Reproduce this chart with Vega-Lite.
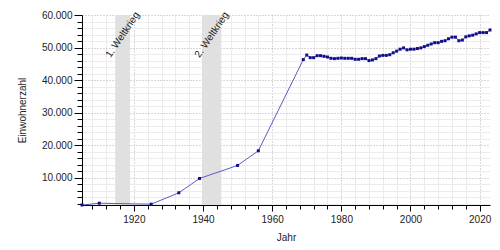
{
  "$schema": "https://vega.github.io/schema/vega-lite/v6.json",
  "width": 408,
  "height": 190,
  "autosize": {"type": "none"},
  "padding": {"left": 82, "top": 15, "right": 10, "bottom": 45},
  "background": "white",
  "config": {
    "view": {"stroke": null},
    "font": "Liberation Sans",
    "axis": {"labelFont": "Liberation Sans", "titleFont": "Liberation Sans", "labelColor": "#222", "titleColor": "#222", "titleFontWeight": "normal", "labelFontSize": 10, "titleFontSize": 10}
  },
  "datasets": {
    "pop": [
      {"year": 1905, "pop": 1650}, {"year": 1910, "pop": 2200}, {"year": 1925, "pop": 1900},
      {"year": 1933, "pop": 5400}, {"year": 1939, "pop": 9800}, {"year": 1950, "pop": 13800},
      {"year": 1956, "pop": 18300}, {"year": 1969, "pop": 46300}, {"year": 1970, "pop": 47700},
      {"year": 1971, "pop": 46900}, {"year": 1972, "pop": 46900}, {"year": 1973, "pop": 47500},
      {"year": 1974, "pop": 47500}, {"year": 1975, "pop": 47300}, {"year": 1976, "pop": 47100},
      {"year": 1977, "pop": 46700}, {"year": 1978, "pop": 46600}, {"year": 1979, "pop": 46700},
      {"year": 1980, "pop": 46800}, {"year": 1981, "pop": 46700}, {"year": 1982, "pop": 46700},
      {"year": 1983, "pop": 46700}, {"year": 1984, "pop": 46400}, {"year": 1985, "pop": 46400},
      {"year": 1986, "pop": 46600}, {"year": 1987, "pop": 46600}, {"year": 1988, "pop": 46000},
      {"year": 1989, "pop": 46200}, {"year": 1990, "pop": 46600}, {"year": 1991, "pop": 47400},
      {"year": 1992, "pop": 47600}, {"year": 1993, "pop": 47600}, {"year": 1994, "pop": 47800},
      {"year": 1995, "pop": 48400}, {"year": 1996, "pop": 48900}, {"year": 1997, "pop": 49500},
      {"year": 1998, "pop": 49900}, {"year": 1999, "pop": 49300}, {"year": 2000, "pop": 49500},
      {"year": 2001, "pop": 49500}, {"year": 2002, "pop": 49700}, {"year": 2003, "pop": 49900},
      {"year": 2004, "pop": 50300}, {"year": 2005, "pop": 50700}, {"year": 2006, "pop": 51100},
      {"year": 2007, "pop": 51500}, {"year": 2008, "pop": 51500}, {"year": 2009, "pop": 51900},
      {"year": 2010, "pop": 52100}, {"year": 2011, "pop": 52700}, {"year": 2012, "pop": 53200},
      {"year": 2013, "pop": 53200}, {"year": 2014, "pop": 52100}, {"year": 2015, "pop": 52300},
      {"year": 2016, "pop": 53300}, {"year": 2017, "pop": 53600}, {"year": 2018, "pop": 53800},
      {"year": 2019, "pop": 54200}, {"year": 2020, "pop": 54600}, {"year": 2021, "pop": 54600},
      {"year": 2022, "pop": 54600}, {"year": 2023, "pop": 55400}
    ],
    "wars": [
      {"start": 1914.6, "end": 1918.9, "mid": 1916.75, "ypos": 53900, "label": "1. Weltkrieg"},
      {"start": 1939.7, "end": 1945.3, "mid": 1942.5, "ypos": 53900, "label": "2. Weltkrieg"}
    ]
  },
  "resolve": {"axis": {"x": "independent", "y": "independent"}},
  "layer": [
    {
      "data": {"name": "wars"},
      "mark": {"type": "rect", "color": "#e0e0e0"},
      "encoding": {
        "x": {"field": "start", "type": "quantitative", "scale": {"domain": [1905, 2023], "nice": false, "zero": false}, "axis": null},
        "x2": {"field": "end"}
      }
    },
    {
      "data": {"name": "pop"},
      "mark": {"type": "point", "shape": "square", "filled": true, "size": 0.1, "color": "#10108a", "opacity": 0},
      "encoding": {
        "x": {"field": "year", "type": "quantitative", "scale": {"domain": [1905, 2023], "nice": false, "zero": false},
          "axis": {"orient": "bottom", "values": [1908,1912,1916,1924,1928,1932,1936,1944,1948,1952,1956,1964,1968,1972,1976,1984,1988,1992,1996,2004,2008,2012,2016],
            "labels": false, "title": null, "domain": false, "tickSize": 4, "tickColor": "#000", "grid": true, "gridColor": "#ececec", "gridWidth": 1}},
        "y": {"field": "pop", "type": "quantitative", "scale": {"domain": [1650, 60000], "nice": false, "zero": false},
          "axis": {"orient": "left", "values": [2000,4000,6000,8000,12000,14000,16000,18000,22000,24000,26000,28000,32000,34000,36000,38000,42000,44000,46000,48000,52000,54000,56000,58000],
            "labels": false, "title": null, "domain": false, "tickSize": 5, "tickColor": "#000", "grid": true, "gridColor": "#ececec", "gridWidth": 1}}
      }
    },
    {
      "data": {"name": "pop"},
      "mark": {"type": "line", "color": "#5b5bc4", "strokeWidth": 1},
      "encoding": {
        "x": {"field": "year", "type": "quantitative", "scale": {"domain": [1905, 2023], "nice": false, "zero": false},
          "axis": {"orient": "bottom", "values": [1920, 1940, 1960, 1980, 2000, 2020], "format": "d", "title": "Jahr", "titlePadding": 8,
            "domainColor": "#000", "tickColor": "#000", "tickSize": 6, "labelPadding": 3, "grid": true, "gridColor": "#b0b0b0", "gridDash": [1, 2]}},
        "y": {"field": "pop", "type": "quantitative", "scale": {"domain": [1650, 60000], "nice": false, "zero": false},
          "axis": {"orient": "left", "values": [10000, 20000, 30000, 40000, 50000, 60000], "labelExpr": "replace(format(datum.value, ','), ',', '.')",
            "title": "Einwohnerzahl", "titlePadding": 14, "domainColor": "#000", "tickColor": "#000", "tickSize": 8, "labelPadding": 2,
            "grid": true, "gridColor": "#b0b0b0", "gridDash": [1, 2]}}
      }
    },
    {
      "data": {"name": "pop"},
      "mark": {"type": "point", "shape": "square", "filled": true, "size": 9, "color": "#10108a", "opacity": 1},
      "encoding": {
        "x": {"field": "year", "type": "quantitative", "axis": null},
        "y": {"field": "pop", "type": "quantitative", "axis": null}
      }
    },
    {
      "data": {"name": "wars"},
      "mark": {"type": "text", "angle": 304, "fontSize": 10, "color": "#222", "align": "center", "baseline": "middle", "font": "Liberation Sans"},
      "encoding": {
        "x": {"field": "mid", "type": "quantitative", "axis": null},
        "y": {"field": "ypos", "type": "quantitative", "axis": null},
        "text": {"field": "label"}
      }
    }
  ]
}
